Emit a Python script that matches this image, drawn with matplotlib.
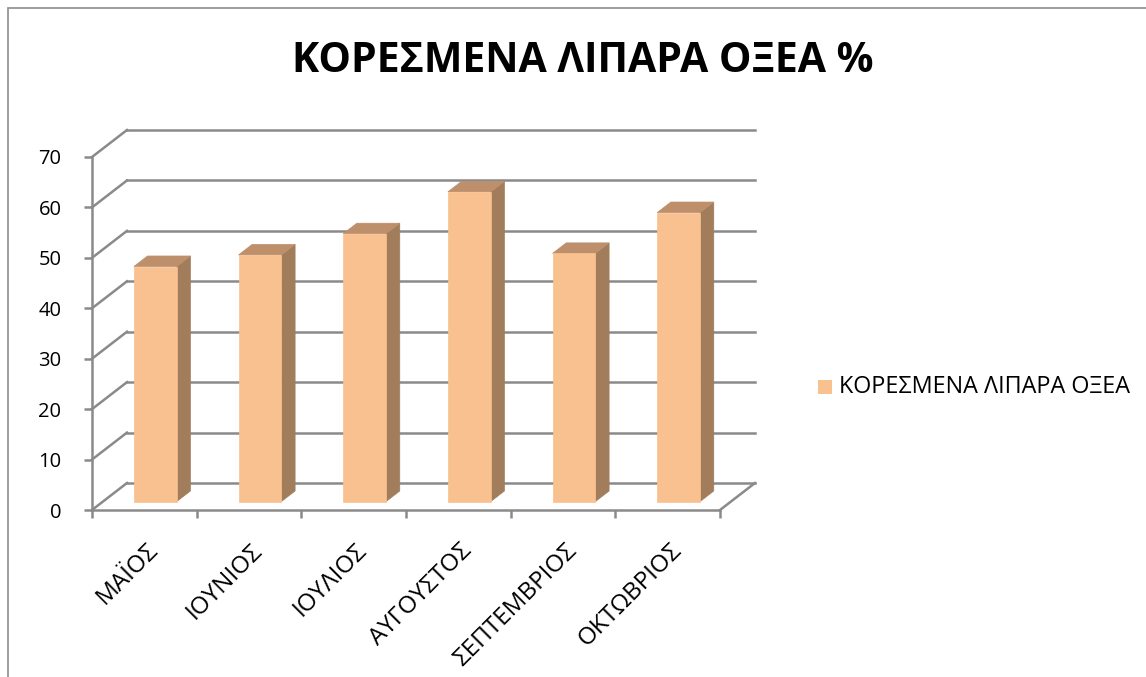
import matplotlib.pyplot as plt
from matplotlib.patches import Polygon, Rectangle
from matplotlib.transforms import offset_copy

plt.rcParams['font.family'] = ['Open Sans', 'DejaVu Sans']

months = ['ΜΑΪΟΣ', 'ΙΟΥΝΙΟΣ', 'ΙΟΥΛΙΟΣ', 'ΑΥΓΟΥΣΤΟΣ', 'ΣΕΠΤΕΜΒΡΙΟΣ', 'ΟΚΤΩΒΡΙΟΣ']
values = [46.6, 48.9, 53.1, 61.4, 49.2, 57.3]
series_name = 'ΚΟΡΕΣΜΕΝΑ ΛΙΠΑΡΑ ΟΞΕΑ'
title = 'ΚΟΡΕΣΜΕΝΑ ΛΙΠΑΡΑ ΟΞΕΑ %'
yticks = list(range(0, 71, 10))

face_col = '#f9c18f'
side_col = '#a27d5b'
top_col = '#be8f6b'
grid_col = '#8a8a8a'

W, H = 1146, 677
fig = plt.figure(figsize=(W / 100, H / 100), dpi=100)

# chart border
fig.patches.append(Rectangle((8 / W, -0.05), 1.1, 1 - 8 / H + 0.05, transform=fig.transFigure,
                             fill=False, edgecolor='#8c8c8c', lw=1.2))

# front plane of the plot: x 0..6 categories, y 0..70
ax = fig.add_axes([92 / W, (H - 510) / H, 628 / W, 353 / H])
ax.set_xlim(0, len(months))
ax.set_ylim(0, 70)

# depth of the 3D box in data units
DX = 0.334
DY = 5.35

# back wall + left wall gridlines
for v in yticks:
    ax.plot([0, DX], [v, v + DY], color=grid_col, lw=1.8, clip_on=False, zorder=1)
    ax.plot([DX, len(months) + DX], [v + DY, v + DY], color=grid_col, lw=1.8,
            clip_on=False, zorder=1)
# floor right edge
ax.plot([len(months), len(months) + DX], [0, DY], color=grid_col, lw=1.8, clip_on=False, zorder=1)

# bars
bw = 0.41
f0, f1 = 0.315, 0.705
for i, v in enumerate(values):
    x0 = i + 0.5 - bw / 2 + f0 * DX
    y0 = f0 * DY
    x1 = x0 + bw
    ddx = (f1 - f0) * DX
    ddy = (f1 - f0) * DY
    front = [(x0, y0), (x1, y0), (x1, y0 + v), (x0, y0 + v)]
    side = [(x1, y0), (x1 + ddx, y0 + ddy), (x1 + ddx, y0 + ddy + v), (x1, y0 + v)]
    top = [(x0, y0 + v), (x1, y0 + v), (x1 + ddx, y0 + ddy + v), (x0 + ddx, y0 + ddy + v)]
    for pts, c in ((side, side_col), (top, top_col), (front, face_col)):
        ax.add_patch(Polygon(pts, closed=True, facecolor=c, edgecolor=c, lw=0.5,
                             clip_on=False, zorder=3))

for s in ['top', 'right']:
    ax.spines[s].set_visible(False)
for s in ['left', 'bottom']:
    ax.spines[s].set_color(grid_col)
    ax.spines[s].set_linewidth(1.8)
ax.set_facecolor('none')
ax.set_yticks(yticks)
ax.set_yticklabels([str(t) for t in yticks], fontsize=14.5)
ax.set_xticks(range(len(months) + 1))
ax.set_xticklabels([])
ax.tick_params(axis='both', color=grid_col, width=1.8, length=6, direction='out')
ax.tick_params(axis='y', pad=16)

# rotated category labels
for i, m in enumerate(months):
    tr = offset_copy(ax.transData, fig=fig, x=10, y=-37, units='dots')
    ax.text(i + 0.5, 0, m, transform=tr, rotation=45, ha='right', va='center',
            rotation_mode='anchor', fontsize=17.5)

fig.text(583 / W, 1 - 62 / H, title, ha='center', va='center', fontsize=29.5, fontweight='bold')

# legend
fig.patches.append(Rectangle((818 / W, 1 - 394 / H), 14 / W, 14 / H, transform=fig.transFigure,
                             facecolor=face_col, edgecolor='none'))
fig.text(839 / W, 1 - 387 / H, series_name, ha='left', va='center', fontsize=16.8)

fig.savefig('out.png', dpi=100)
